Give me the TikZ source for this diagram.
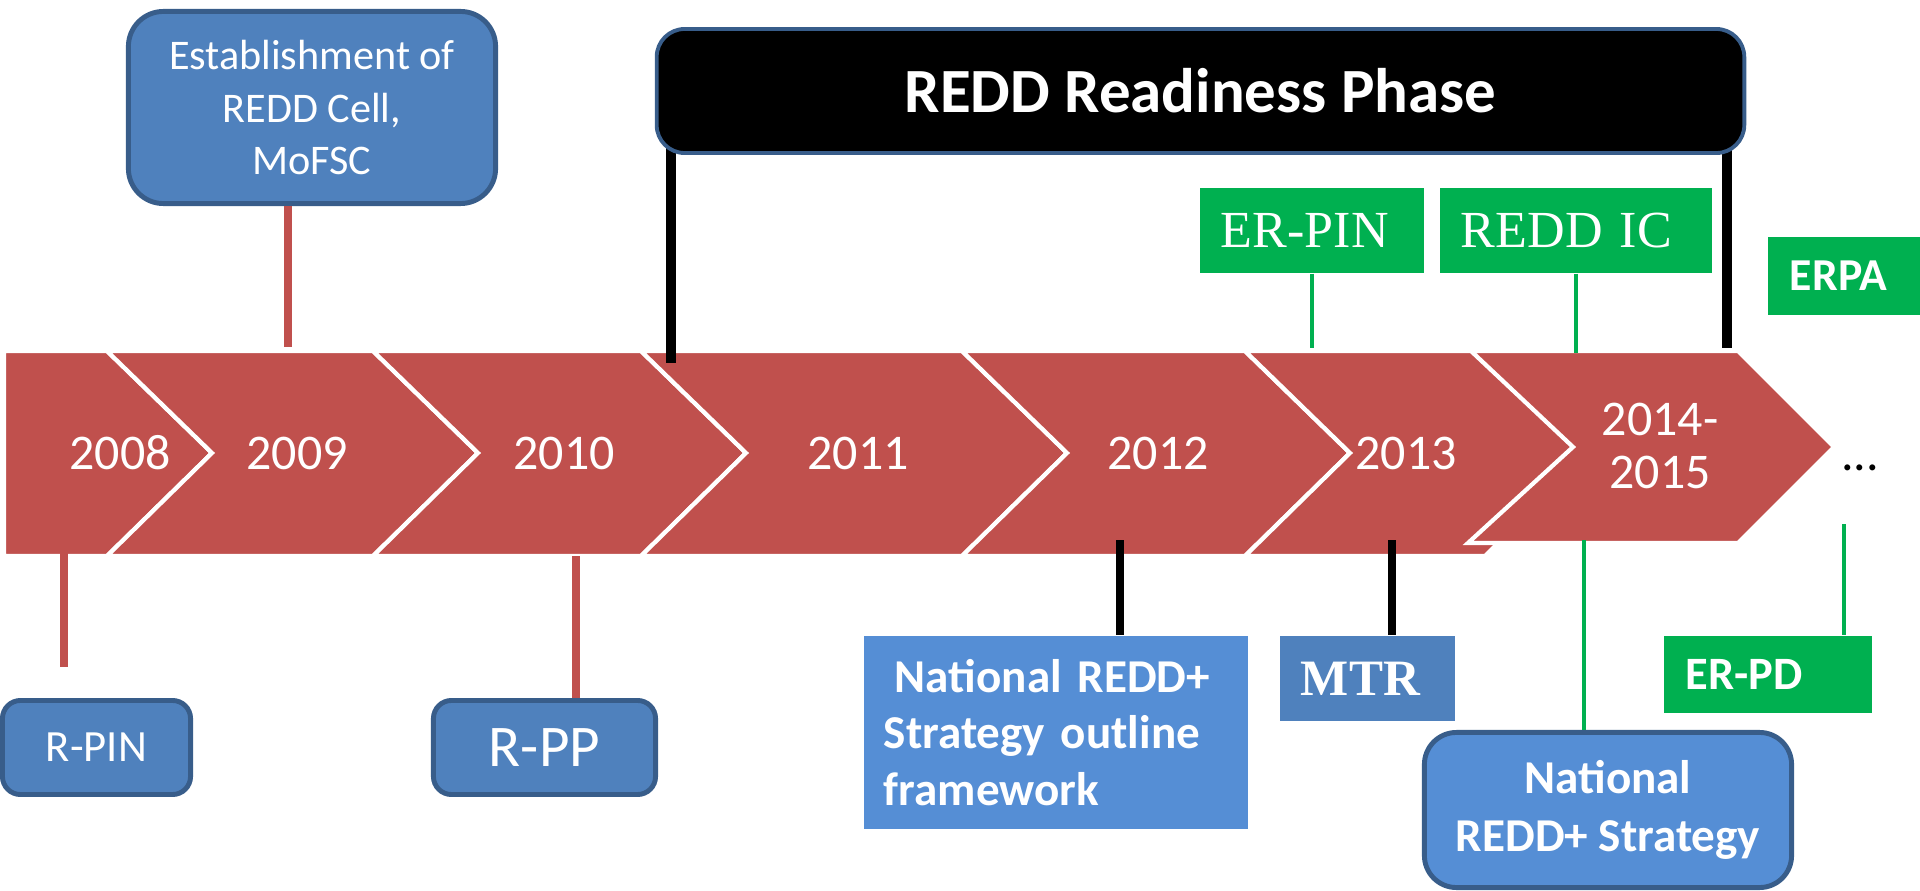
\documentclass[tikz,border=0pt]{standalone}
\usepackage{fontspec}
\setmainfont{Carlito}
\newfontfamily\timesish{Liberation Serif}
\usepackage{xcolor}
\definecolor{chevred}{HTML}{C0504D}
\definecolor{boxblue}{HTML}{4F81BD}
\definecolor{boxline}{HTML}{385D8A}
\definecolor{lightblue}{HTML}{558ED5}
\definecolor{ergreen}{HTML}{00B050}
\pgfdeclarelayer{front}
\pgfsetlayers{main,front}

\begin{document}
\begin{tikzpicture}[x=0.01cm,y=-0.01cm,
    chev/.style={fill=chevred,draw=white,line width=1.2pt},
    year/.style={text=white,align=center,font=\fontsize{14.2}{15}\selectfont},
    phase/.style={fill=black,draw=boxline,line width=1.1pt,rounded corners=0.28cm,minimum width=10.87cm,minimum height=1.24cm,text=white,font=\bfseries\fontsize{17.9}{20}\selectfont},
    bluebox/.style={fill=boxblue,draw=boxline,line width=1.4pt,text=white,inner sep=0pt,align=center},
    flatbox/.style={text=white,inner ysep=0pt,inner xsep=0.2cm,align=left},
    greenbox/.style={fill=ergreen,text=white,inner ysep=0pt,inner xsep=0.21cm,align=left},
    redstem/.style={draw=chevred,line width=2pt},
    blackstem/.style={draw=black,line width=2.3pt},
    greenstem/.style={draw=ergreen,line width=1.4pt},
    phasebar/.style={draw=black,line width=3.1pt}]

    \useasboundingbox (0,0) rectangle (1920,891);

    % time band
    \draw[chev] (4,351) -- (107,351) -- (212,453) -- (107,556) -- (4,556) -- cycle;
    \foreach \l/\r in {107/373,373/641,641/962,962/1245,1245/1485}
        \draw[chev] (\l,351) -- (\r,351) -- ({\r+105},453) -- (\r,556) -- (\l,556) -- ({\l+105},453) -- cycle;
    \draw[chev] (1471,351) -- (1738,351) -- (1834,447) -- (1738,543) -- (1468,543) -- (1573,447) -- cycle;

    \node[year] (y2008) at (120,453) {2008};
    \node[year] (y2009) at (297,453) {2009};
    \node[year] (y2010) at (564,453) {2010};
    \node[year] (y2011) at (858,453) {2011};
    \node[year] (y2012) at (1158,453) {2012};
    \node[year] (y2013) at (1406,453) {2013};
    \node[year] (y2014) at (1660,446) {2014-\\2015};
    \node[font=\fontsize{14.2}{15}\selectfont] (more) at (1860,468) {...};

    % readiness phase
    \begin{pgfonlayer}{front}
        \node[phase] (phase) at (1200.5,91) {REDD Readiness Phase};
    \end{pgfonlayer}
    \coordinate (pl) at (671,363);
    \coordinate (pr) at (1727,348);
    \draw[phasebar] (phase.center -| pl) -- (pl);
    \draw[phasebar] (phase.center -| pr) -- (pr);

    % boxes above
    \node[bluebox,rounded corners=0.35cm,minimum width=3.67cm,minimum height=1.92cm,font=\fontsize{12}{14.8}\selectfont] (estab) at (312,107.5) {Establishment of\\REDD Cell,\\MoFSC};
    \node[greenbox,text width=1.82cm,minimum height=0.85cm,font=\timesish\fontsize{14.8}{17}\selectfont] (erpin) at (1312,230.5) {ER-PIN};
    \node[greenbox,text width=2.30cm,minimum height=0.85cm,font=\timesish\fontsize{14.8}{17}\selectfont] (reddic) at (1576,230.5) {REDD IC};
    \node[greenbox,inner xsep=0.22cm,text width=1.08cm,minimum height=0.78cm,font=\bfseries\fontsize{13}{15}\selectfont] (erpa) at (1844,276) {ERPA};

    % boxes below
    \node[bluebox,rounded corners=0.18cm,minimum width=1.88cm,minimum height=0.94cm,font=\fontsize{12.7}{15}\selectfont] (rpin) at (96.5,747.5) {R-PIN};
    \node[bluebox,rounded corners=0.18cm,minimum width=2.22cm,minimum height=0.94cm,font=\fontsize{16.8}{19}\selectfont] (rpp) at (544.5,747.5) {R-PP};
    \node[flatbox,fill=lightblue,text width=3.44cm,minimum height=1.93cm,font=\bfseries\fontsize{13.4}{16.1}\selectfont] (nrso) at (1056,732.5) {\hspace*{0.11cm}National REDD+\\Strategy outline\\framework};
    \node[flatbox,fill=boxblue,inner xsep=0.21cm,text width=1.33cm,minimum height=0.85cm,font=\timesish\bfseries\fontsize{14.5}{17}\selectfont] (mtr) at (1367.5,678.5) {MTR};
    \node[bluebox,fill=lightblue,rounded corners=0.32cm,minimum width=3.67cm,minimum height=1.55cm,font=\bfseries\fontsize{13.4}{16.5}\selectfont] (nrs) at (1608,810) {National\\REDD+ Strategy};
    \node[greenbox,inner xsep=0.22cm,text width=1.64cm,minimum height=0.77cm,font=\bfseries\fontsize{13.2}{15}\selectfont] (erpd) at (1768,674.5) {ER-PD};

    % stems
    \coordinate (t2009) at (288,347);
    \coordinate (tpin) at (1312,348);
    \coordinate (tic) at (1576,353);
    \coordinate (b2008a) at (64,542);
    \coordinate (b2008b) at (64,667);
    \coordinate (b2010) at (576,556);
    \coordinate (b2012) at (1120,540);
    \coordinate (b2013) at (1392,540);
    \coordinate (b2014) at (1584,540);
    \coordinate (bpd) at (1844,524);

    \draw[redstem] (estab.south -| t2009) -- (t2009);
    \draw[redstem] (b2008a) -- (b2008b);
    \draw[redstem] (b2010) -- (rpp.north -| b2010);
    \draw[greenstem] (erpin.south) -- (tpin);
    \draw[greenstem] (reddic.south) -- (tic);
    \draw[blackstem] (b2012) -- (nrso.north -| b2012);
    \draw[blackstem] (b2013) -- (mtr.north -| b2013);
    \draw[greenstem] (b2014) -- (nrs.north -| b2014);
    \draw[greenstem] (bpd) -- (erpd.north -| bpd);
\end{tikzpicture}
\end{document}
